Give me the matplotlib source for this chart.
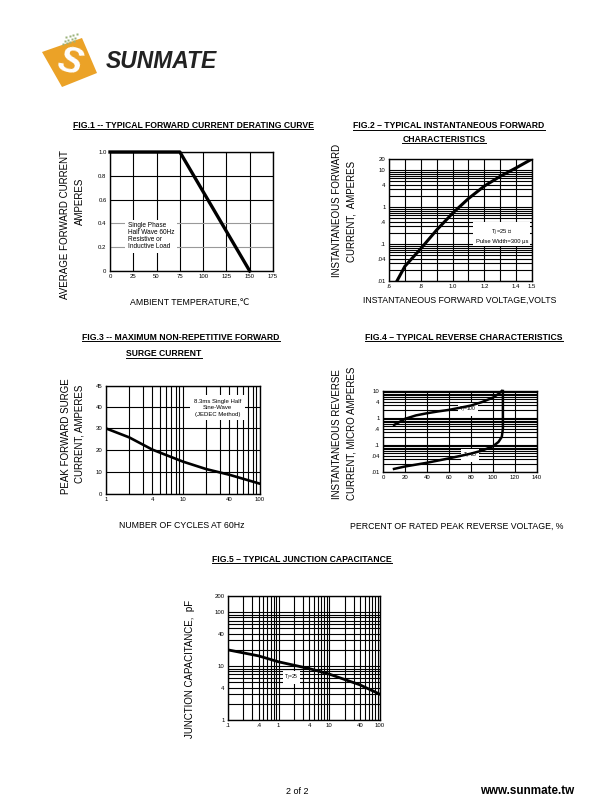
import matplotlib
matplotlib.use("Agg")
import matplotlib.pyplot as plt
from matplotlib.patches import Polygon
from matplotlib.ticker import FixedLocator, LogLocator, NullFormatter

plt.rcParams['font.family'] = ['Liberation Sans', 'DejaVu Sans']

W, H = 610, 810

# FIG.1 derating curve
amb_temp = [0, 75, 150]
avg_fwd_current = [1.0, 1.0, 0.0]
fig1_xticks = [0, 25, 50, 75, 100, 125, 150, 175]
fig1_yticks = [0, 0.2, 0.4, 0.6, 0.8, 1.0]
fig1_ylabels = ['0', '0.2', '0.4', '0.6', '0.8', '1.0']

# FIG.2 forward characteristics
fwd_voltage = [0.65, 0.7, 0.8, 0.9, 1.0, 1.1, 1.2, 1.3, 1.4, 1.5]
fwd_current = [0.01, 0.025, 0.075, 0.24, 0.68, 1.7, 3.7, 6.8, 11.5, 20]
fig2_xticks = [0.6, 0.8, 1.0, 1.2, 1.4, 1.5]
fig2_xlabels = ['.6', '.8', '1.0', '1.2', '1.4', '1.5']
fig2_yticks = [0.01, 0.04, 0.1, 0.4, 1, 4, 10, 20]
fig2_ylabels = ['.01', '.04', '.1', '.4', '1', '4', '10', '20']

# FIG.3 surge current
cycles = [1, 2, 4, 10, 20, 40, 100]
surge_current = [30, 25.9, 20.3, 14.8, 11.4, 8.8, 4.7]
fig3_xticks = [1, 4, 10, 40, 100]
fig3_yticks = [0, 10, 20, 30, 40, 49.4]
fig3_ylabels = ['0', '10', '20', '30', '40', '45']

# FIG.4 reverse characteristics
pct_tj100 = [10, 20, 30, 40, 50, 60, 70, 80, 90, 100, 105, 108]
rev_tj100 = [0.55, 0.93, 1.25, 1.5, 1.75, 2.0, 2.4, 2.9, 3.9, 5.7, 7.8, 10]
pct_tj25 = [10, 20, 40, 60, 80, 90, 100, 105, 108, 109, 109]
rev_tj25 = [0.013, 0.016, 0.022, 0.032, 0.048, 0.062, 0.09, 0.13, 0.2, 0.4, 10]
fig4_yticks = [0.01, 0.04, 0.1, 0.4, 1, 4, 10]
fig4_ylabels = ['.01', '.04', '.1', '.4', '1', '4', '10']

# FIG.5 junction capacitance
rev_voltage = [0.1, 0.4, 1, 4, 10, 40, 100]
junction_cap = [20, 15.5, 12, 9, 7.1, 4.5, 3.0]
fig5_xticks = [0.1, 0.4, 1, 4, 10, 40, 100]
fig5_xlabels = ['.1', '.4', '1', '4', '10', '40', '100']
fig5_yticks = [1, 4, 10, 40, 100, 200]
fig5_ylabels = ['1', '4', '10', '40', '100', '200']

fig = plt.figure(figsize=(W / 100, H / 100), dpi=100)

# overlay in pixel coords for logo, titles, labels
ov = fig.add_axes([0, 0, 1, 1], zorder=10)
ov.set_xlim(0, W)
ov.set_ylim(H, 0)
ov.axis('off')


def box(l, t, r, b):
    ax = fig.add_axes([l / W, 1 - b / H, (r - l) / W, (b - t) / H])
    for s in ax.spines.values():
        s.set_linewidth(1.0)
    ax.tick_params(which='both', length=0, labelsize=4.3, pad=2.5)
    return ax


def logy_grid(ax, ticks, labels):
    ax.set_yscale('log')
    ax.yaxis.set_major_locator(FixedLocator(ticks))
    ax.set_yticklabels(labels)
    ax.yaxis.set_minor_locator(LogLocator(base=10, subs=range(1, 10), numticks=20))
    ax.yaxis.set_minor_formatter(NullFormatter())


def logx_grid(ax, ticks, labels):
    ax.set_xscale('log')
    ax.xaxis.set_major_locator(FixedLocator(ticks))
    ax.set_xticklabels(labels)
    ax.xaxis.set_minor_locator(LogLocator(base=10, subs=range(1, 10), numticks=20))
    ax.xaxis.set_minor_formatter(NullFormatter())


titles = []
def title(x, y, s):
    t = ov.text(x, y, s, ha='center', va='center', fontsize=6.2, fontweight='bold')
    titles.append(t)


def label(x, y, s, rot=0, size=6.3):
    ov.text(x, y, s, ha='center', va='center', fontsize=size, rotation=rot)


# ---- logo ----
ov.add_patch(Polygon([(42, 52), (82, 38), (97, 73), (62, 87)], closed=True,
                     fc='#EBA227', ec='none'))
ov.text(70, 63, 'S', color='white', fontsize=26, fontweight='bold',
        ha='center', va='center', rotation=-15, style='italic')
for i in range(4):
    for j in range(3):
        ov.plot(63 + i * 3.5 + j * 1.5, 44 - j * 3.5 - i * 1.0, 's', ms=1.6,
                color='#9BB27A', mec='none')
ov.text(106, 62, 'SUNMATE', fontsize=16.5, fontweight='bold', style='italic',
        ha='left', va='center', color='#222222')

# ---- FIG.1 ----
ax1 = box(110, 152, 273, 271)
ax1.plot(amb_temp, avg_fwd_current, color='black', lw=2.4, clip_on=False, zorder=4)
ax1.set_xlim(0, 175)
ax1.set_ylim(0, 1.0)
ax1.set_xticks(fig1_xticks)
ax1.set_yticks(fig1_yticks)
ax1.set_yticklabels(fig1_ylabels)
ax1.grid(True, color='black', lw=0.8)
for tk in ax1.yaxis.get_major_ticks():
    if abs(tk.get_loc() - 0.2) < 1e-6 or abs(tk.get_loc() - 0.4) < 1e-6:
        tk.gridline.set_color('0.6')
ax1.text(19, 0.29, 'Single Phase\nHalf Wave 60Hz\nResistive or\nInductive Load',
         fontsize=4.7, va='center', ha='left', linespacing=1.0, zorder=3,
         bbox=dict(fc='white', ec='none', pad=2))
title(193, 125, 'FIG.1 -- TYPICAL FORWARD CURRENT DERATING CURVE')
label(65, 225, 'AVERAGE FORWARD CURRENT', rot=90, size=7.0)
label(80, 201, 'AMPERES', rot=90, size=7.0)
label(190, 302, 'AMBIENT TEMPERATURE,\u2103')

# ---- FIG.2 ----
ax2 = box(389, 159, 532, 281)
ax2.plot(fwd_voltage, fwd_current, color='black', lw=2.2, zorder=4)
ax2.set_xlim(0.6, 1.5)
ax2.set_ylim(0.01, 20)
logy_grid(ax2, fig2_yticks, fig2_ylabels)
ax2.set_xticks(fig2_xticks)
ax2.set_xticklabels(fig2_xlabels)
ax2.xaxis.set_minor_locator(FixedLocator([0.7, 0.9, 1.1, 1.3]))
ax2.grid(True, which='both', color='black', lw=0.8)
ax2.text(1.31, 0.17, 'T$_J$=25 \u2103\nPulse Width=300 \u03bcs', fontsize=4.2,
         ha='center', va='center', linespacing=1.3, zorder=3,
         bbox=dict(fc='white', ec='none', pad=1.5))
title(449, 126, 'FIG.2 \u2013 TYPICAL INSTANTANEOUS FORWARD')
title(444, 139, 'CHARACTERISTICS')
label(337, 210, 'INSTANTANEOUS FORWARD', rot=90, size=7.0)
label(352, 211, 'CURRENT,  AMPERES', rot=90, size=7.0)
label(460, 300, 'INSTANTANEOUS FORWARD VOLTAGE,VOLTS')

# ---- FIG.3 ----
ax3 = box(106, 386, 260, 494)
ax3.plot(cycles, surge_current, color='black', lw=1.9, zorder=4)
logx_grid(ax3, fig3_xticks, [str(c) for c in fig3_xticks])
ax3.set_xlim(1, 100)
ax3.set_ylim(0, 49.4)
ax3.set_yticks(fig3_yticks)
ax3.set_yticklabels(fig3_ylabels)
ax3.grid(True, which='both', color='black', lw=0.8)
ax3.text(28, 39.5, '8.3ms Single Half\nSine-Wave\n(JEDEC Method)', fontsize=4.3,
         ha='center', va='center', linespacing=1.4, zorder=3,
         bbox=dict(fc='white', ec='none', pad=2.5))
title(181, 337, 'FIG.3 -- MAXIMUM NON-REPETITIVE FORWARD')
title(164, 354, 'SURGE CURRENT')
label(66, 436, 'PEAK FORWARD SURGE', rot=90, size=7.0)
label(80, 434, 'CURRENT, AMPERES', rot=90, size=7.0)
label(182, 526, 'NUMBER OF CYCLES AT 60Hz')

# ---- FIG.4 ----
ax4 = box(383, 391, 537, 472)
ax4.plot(pct_tj100, rev_tj100, color='black', lw=1.8, zorder=4, clip_on=False)
ax4.plot(pct_tj25, rev_tj25, color='black', lw=1.8, zorder=4, clip_on=False)
ax4.set_xlim(0, 140)
ax4.set_ylim(0.01, 10)
logy_grid(ax4, fig4_yticks, fig4_ylabels)
ax4.set_xticks(range(0, 141, 20))
ax4.grid(True, which='both', color='black', lw=0.8)
ax4.text(77, 2.0, 'T$_J$=100', fontsize=3.6, ha='center', va='center', zorder=3,
         bbox=dict(fc='white', ec='none', pad=1))
ax4.text(79, 0.04, 'T$_J$=25', fontsize=3.6, ha='center', va='center', zorder=3,
         bbox=dict(fc='white', ec='none', pad=1))
title(464, 337, 'FIG.4 \u2013 TYPICAL REVERSE CHARACTERISTICS')
label(337, 434, 'INSTANTANEOUS REVERSE', rot=90, size=7.0)
label(352, 433, 'CURRENT, MICRO AMPERES', rot=90, size=7.0)
label(457, 526, 'PERCENT OF RATED PEAK REVERSE VOLTAGE, %')

# ---- FIG.5 ----
ax5 = box(228, 596, 380, 720)
ax5.plot(rev_voltage, junction_cap, color='black', lw=2.0, zorder=4)
logx_grid(ax5, fig5_xticks, fig5_xlabels)
logy_grid(ax5, fig5_yticks, fig5_ylabels)
ax5.set_xlim(0.1, 100)
ax5.set_ylim(1, 200)
ax5.grid(True, which='both', color='black', lw=0.8)
ax5.text(1.8, 6.1, 'T$_J$=25', fontsize=3.6, ha='center', va='center', zorder=3,
         bbox=dict(fc='white', ec='none', pad=1))
title(302, 559, 'FIG.5 \u2013 TYPICAL JUNCTION CAPACITANCE')
label(190, 669, 'JUNCTION CAPACITANCE,  pF', rot=90, size=7.0)

# ---- footer ----
ov.text(297, 791, '2 of 2', fontsize=6.5, ha='center', va='center')
ov.text(527, 791, 'www.sunmate.tw', fontsize=8.4, fontweight='bold', ha='center', va='center')

# underline titles
fig.canvas.draw()
for t in titles:
    bb = t.get_window_extent()
    yb = H - bb.y0 - 0.5
    ov.plot([bb.x0, bb.x1], [yb, yb], color='black', lw=0.7)

fig.savefig('out.png', dpi=100)
